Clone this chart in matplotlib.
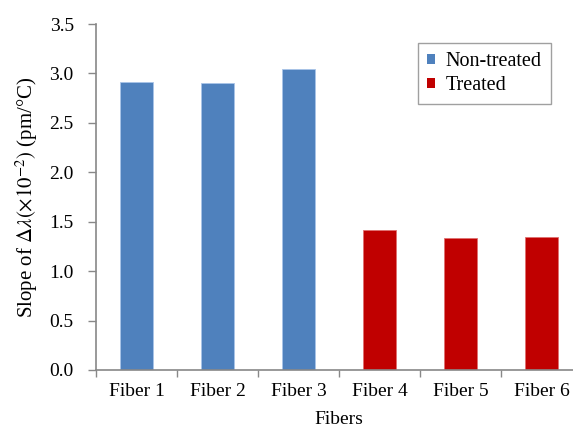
import matplotlib
matplotlib.use("Agg")
import matplotlib.pyplot as plt
from matplotlib.patches import Patch

categories = ["Fiber 1", "Fiber 2", "Fiber 3", "Fiber 4", "Fiber 5", "Fiber 6"]
values = [2.91, 2.90, 3.04, 1.415, 1.335, 1.345]
groups = ["Non-treated", "Non-treated", "Non-treated", "Treated", "Treated", "Treated"]
yticks = [0.0, 0.5, 1.0, 1.5, 2.0, 2.5, 3.0, 3.5]

colors = {"Non-treated": "#4F81BD", "Treated": "#C00000"}
edges = {"Non-treated": "#A9C4E8", "Treated": "#E07070"}

plt.rcParams['font.family'] = ['Liberation Serif', 'DejaVu Serif']
plt.rcParams['mathtext.fontset'] = 'stix'

FS = 14

fig = plt.figure(figsize=(5.73, 4.28), dpi=100)
ax = fig.add_axes([96/573, 1-370/428, (582-96)/573, (370-24)/428])

x = list(range(len(categories)))
ax.bar(x, values, width=0.41, color=[colors[g] for g in groups],
       edgecolor=[edges[g] for g in groups], linewidth=0.6, zorder=2)

ax.set_xlim(-0.5, len(categories) - 0.5)
ax.set_ylim(0, 3.5)
ax.set_yticks(yticks)
ax.set_yticklabels([f"{t:.1f}" for t in yticks])
ax.set_xticks([i - 0.5 for i in range(len(categories) + 1)], minor=False)
ax.set_xticklabels([])
ax.set_xticks(x, minor=True)
ax.set_xticklabels(categories, minor=True)
ax.tick_params(axis='x', which='minor', length=0, labelsize=FS, pad=9)
ax.tick_params(axis='x', which='major', length=5, color='#888888', width=1)
ax.tick_params(axis='y', length=6, color='#888888', width=1, labelsize=FS, pad=10)

for s in ['top', 'right']:
    ax.spines[s].set_visible(False)
for s in ['left', 'bottom']:
    ax.spines[s].set_color('#888888')
    ax.spines[s].set_linewidth(1.2)

ax.set_xlabel("Fibers", fontsize=FS, labelpad=8)
ax.set_ylabel(r"Slope of $\Delta\lambda(\times10^{-2})$ (pm/°C)", fontsize=15, labelpad=7)

handles = [Patch(facecolor=colors["Non-treated"], label="Non-treated"),
           Patch(facecolor=colors["Treated"], label="Treated")]
leg = fig.legend(handles=handles, loc='upper left', bbox_to_anchor=(418/573, 1-43/428),
                 fontsize=14.5, frameon=True, fancybox=False, edgecolor='#888888',
                 handlelength=0.38, handleheight=0.38, handletextpad=0.55,
                 borderpad=0.45, labelspacing=0.25, borderaxespad=0)
leg.get_frame().set_linewidth(1.0)

fig.savefig("out.png", dpi=100)
